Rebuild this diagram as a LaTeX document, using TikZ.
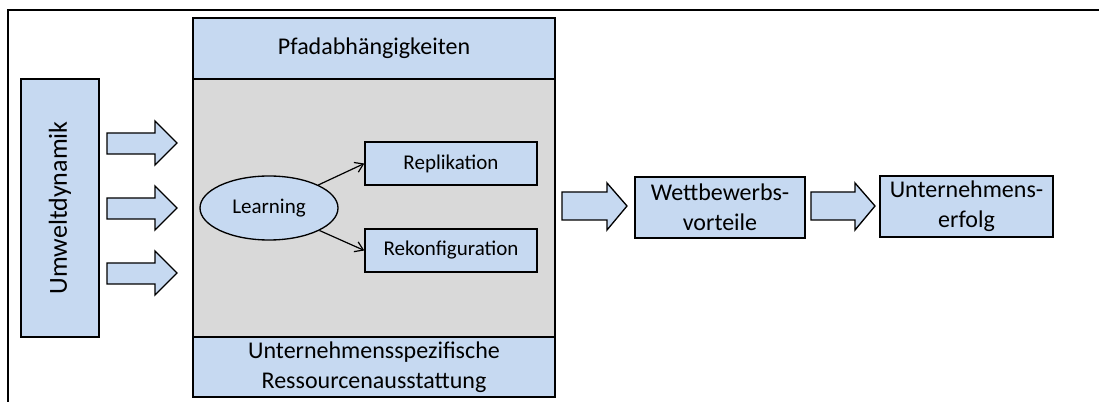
\documentclass[tikz,border=0pt]{standalone}
\usepackage{fontspec}
\setmainfont{Carlito}
\usetikzlibrary{arrows.meta,shapes.geometric}
\definecolor{boxblue}{HTML}{C6D9F1}
\definecolor{boxgray}{HTML}{D9D9D9}
\begin{document}
\begin{tikzpicture}[x=0.75pt,y=-0.75pt,
  bx/.style={draw=black, fill=boxblue, line width=1pt, inner sep=0pt, align=center, font=\fontsize{18}{22.5}\selectfont},
  smallbx/.style={bx, font=\fontsize{15.75}{19}\selectfont},
  grayarea/.style={draw=black, fill=boxgray, line width=1pt, inner sep=0pt},
  blockarrow/.style={draw=black, fill=boxblue, line width=1pt, line join=miter},
  conn/.style={line width=0.9pt, -{Straight Barb[length=6pt,width=8pt]}},
  frame/.style={line width=1.5pt}]
\useasboundingbox (0,0) rectangle (1099,402);
\draw[frame] (8,402) -- (8,10) -- (1099,10);

% left box
\node[bx, rotate=90, minimum width=193.5pt, minimum height=58.5pt, font=\fontsize{19.5}{23}\selectfont] (umwelt) at (60,208) {Umweltdynamik};

% block arrows left
\foreach \d in {0,65,130} {
  \draw[blockarrow] (107,133+\d) -- (155,133+\d) -- (155,121+\d) -- (177,143+\d) -- (155,165+\d) -- (155,154+\d) -- (107,154+\d) -- cycle;
}

% central box
\node[grayarea, minimum width=271.5pt, minimum height=193.5pt] (core) at (374,208) {};
\node[bx, minimum width=271.5pt, minimum height=45.75pt] (pfad) at (374,48.5) {Pfadabhängigkeiten};
\node[bx, minimum width=271.5pt, minimum height=45pt] (ress) at (374,367) {Unternehmensspezifische\\Ressourcenausstattung};

\node[smallbx, ellipse, minimum width=103.5pt, minimum height=48pt] (learn) at (269,208) {Learning};
\node[smallbx, minimum width=129pt, minimum height=32.25pt] (repl) at (451,163.5) {Replikation};
\node[smallbx, minimum width=129pt, minimum height=32.25pt] (rekon) at (451,250.5) {Rekonfiguration};
\draw[conn] (learn) -- (repl.west);
\draw[conn] (learn) -- (rekon.west);

% right part
\draw[blockarrow] (562,192) -- (607,192) -- (607,183) -- (627,206) -- (607,230) -- (607,220) -- (562,220) -- cycle;
\node[bx, minimum width=127.5pt, minimum height=45.75pt] (wett) at (720,207.5) {Wettbewerbs-\\vorteile};
\draw[blockarrow] (811,192) -- (855,192) -- (855,183) -- (875,206) -- (855,230) -- (855,220) -- (811,220) -- cycle;
\node[bx, minimum width=129.75pt, minimum height=45.75pt] (erfolg) at (966.5,206.5) {Unternehmens-\\erfolg};
\end{tikzpicture}
\end{document}
